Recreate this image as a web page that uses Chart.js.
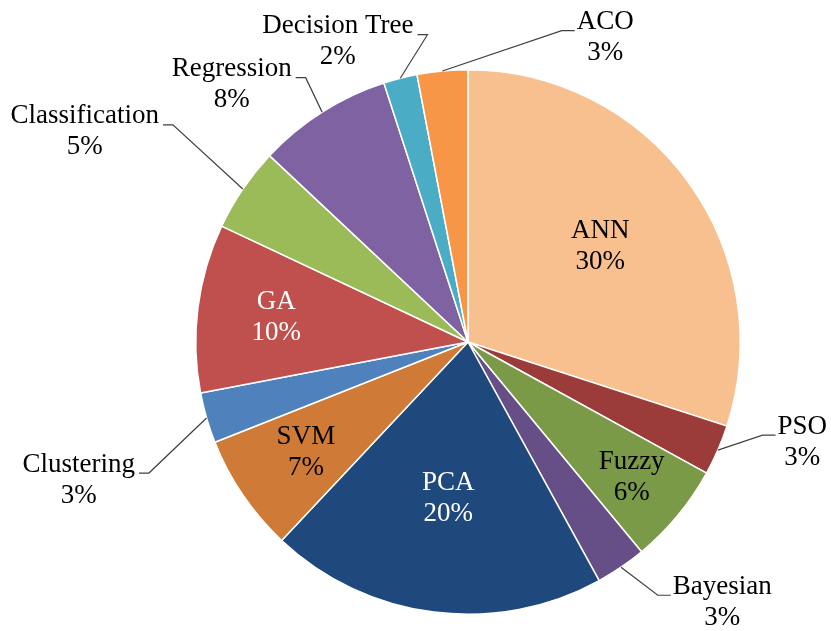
<!DOCTYPE html>
<html>
<head>
<meta charset="utf-8">
<script src="https://cdn.jsdelivr.net/npm/chart.js@4"></script>
<style>
  html, body { margin: 0; padding: 0; background: #fff; }
  #wrap { width: 831px; height: 631px; }
</style>
</head>
<body>
<div id="wrap"><canvas id="pie_chart" width="831" height="631"></canvas></div>
<script>
// slice names and their shares (%)
const categories = ["ANN", "PSO", "Fuzzy", "Bayesian", "PCA", "SVM", "Clustering", "GA",
                    "Classification", "Regression", "Decision Tree", "ACO"];
const shares = [30, 3, 6, 3, 20, 7, 3, 10, 5, 8, 2, 3];
const sliceColors = ["#F9C08F", "#9B3B3A", "#7A9A48", "#654F86", "#1F487C", "#CF7A36",
                     "#4F81BD", "#C0504D", "#9BBB59", "#7F62A1", "#4BACC6", "#F79646"];

// where each label sits: r = inside at fraction of radius along mid angle,
// dx/dy = outside, offset from the centre in radius units (with a leader line)
const labelSpots = [
    {r: 0.60}, {dx: 1.228, dy: 0.368}, {r: 0.78}, {dx: 0.934, dy: 0.956},
    {r: 0.58}, {r: 0.72}, {dx: -1.430, dy: 0.507}, {r: 0.71},
    {dx: -1.408, dy: -0.772}, {dx: -0.868, dy: -0.945}, {dx: -0.478, dy: -1.103}, {dx: 0.504, dy: -1.118}
];
const labelInk = ["#000", "#000", "#000", "#000", "#fff", "#000", "#000", "#fff", "#000", "#000", "#000", "#000"];

const FONT = '27px "Liberation Serif", "Times New Roman", serif';
const LINE_H = 31;

const pieLabels = {
    id: "pieLabels",
    afterDatasetsDraw(chart) {
        const ctx = chart.ctx;
        const arcs = chart.getDatasetMeta(0).data;
        const total = shares.reduce((a, b) => a + b, 0);
        ctx.save();
        ctx.font = FONT;
        ctx.textAlign = "center";
        ctx.textBaseline = "middle";
        arcs.forEach((arc, i) => {
            const p = arc.getProps(["x", "y", "startAngle", "endAngle", "outerRadius"], true);
            const mid = (p.startAngle + p.endAngle) / 2;
            const R = p.outerRadius;
            const lines = [categories[i], Math.round(shares[i] / total * 100) + "%"];
            const spot = labelSpots[i];
            let cx, cy;
            if (spot.r !== undefined) {
                cx = p.x + Math.cos(mid) * R * spot.r;
                cy = p.y + Math.sin(mid) * R * spot.r;
            } else {
                cx = p.x + spot.dx * R;
                cy = p.y + spot.dy * R;
                // leader line from slice edge to the label side
                const sx = p.x + Math.cos(mid) * R;
                const sy = p.y + Math.sin(mid) * R;
                const halfW = ctx.measureText(lines[0]).width / 2;
                const toRight = cx > sx;
                const ex = toRight ? cx - halfW - 2 : cx + halfW + 4;
                const ey = cy - 7;
                const bx = toRight ? ex - 13 : ex + 10;
                ctx.strokeStyle = "#404040";
                ctx.lineWidth = 1.2;
                ctx.beginPath();
                ctx.moveTo(sx, sy);
                ctx.lineTo(bx, ey);
                ctx.lineTo(ex, ey);
                ctx.stroke();
            }
            ctx.fillStyle = labelInk[i];
            ctx.fillText(lines[0], cx, cy - LINE_H / 2);
            ctx.fillText(lines[1], cx, cy + LINE_H / 2);
        });
        ctx.restore();
    }
};

const pie_config = {
    type: "pie",
    data: {
        labels: categories,
        datasets: [{
            data: shares,
            backgroundColor: sliceColors,
            borderColor: "#ffffff",
            borderWidth: 1.5
        }]
    },
    options: {
        responsive: false,
        animation: false,
        layout: { padding: { top: 69, bottom: 16, left: 105, right: 0 } },
        plugins: {
            legend: { display: false },
            tooltip: { enabled: false }
        }
    },
    plugins: [pieLabels]
};

window.onload = function () {
    new Chart(document.getElementById("pie_chart").getContext("2d"), pie_config);
};
</script>
</body>
</html>
